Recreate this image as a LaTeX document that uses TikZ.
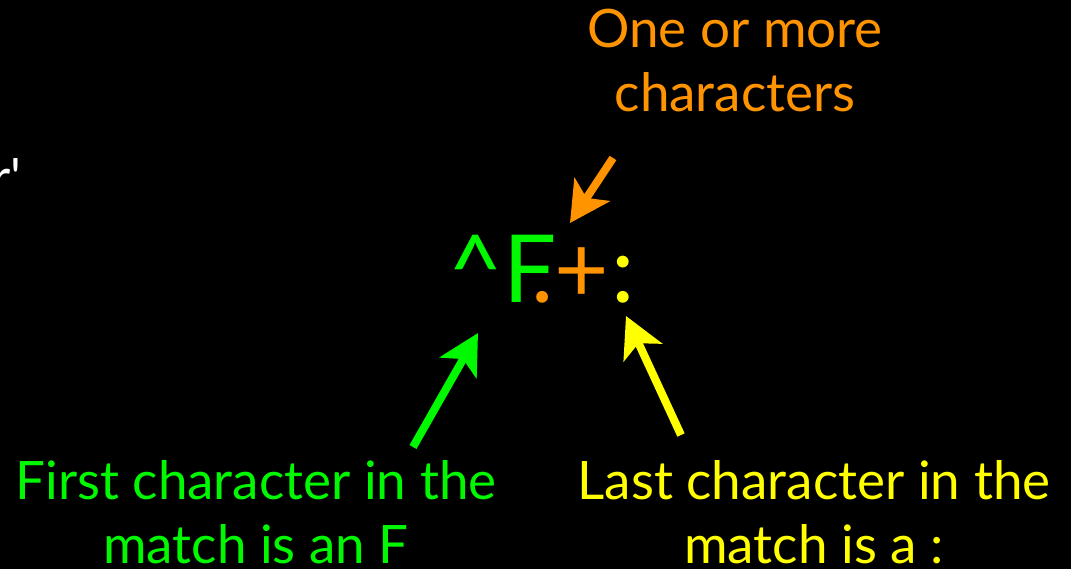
\documentclass[tikz,border=0pt]{standalone}
\usepackage{fontspec}
\setmainfont{Lato}
\usetikzlibrary{arrows.meta}
\definecolor{kOrange}{HTML}{FF9300}
\definecolor{kGreen}{HTML}{00F900}
\definecolor{kYellow}{HTML}{FFFF00}
\tikzset{
  label/.style={inner sep=0pt, anchor=base, align=center,
    font=\fontsize{53}{64}\selectfont},
  glyph/.style={inner sep=0pt, anchor=base, font=\fontsize{94}{94}\selectfont},
  pointer/.style={line width=8pt,
    -{Stealth[length=40pt, width=42pt, inset=10pt]}},
}
\begin{document}
\begin{tikzpicture}[x=1pt, y=-1pt]
  \fill[black] (0,0) rectangle (1071,569);
  \useasboundingbox (0,0) rectangle (1071,569);

  % fragment of the preceding code line
  \node[label, anchor=base east, text=white] (prefix) at (22,197) {r\textquotesingle};

  % the regular expression ^F.+:
  \node[glyph, text=kGreen] (caret) at (476,303) {\^{}};
  \node[glyph, text=kGreen, anchor=base west] (F) at (503,303) {F};
  \node[glyph, text=kOrange] (dot) at (543,303) {.};
  \node[glyph, text=kOrange] (plus) at (582,303) {+};
  \node[glyph, text=kYellow] (colon) at (623,303) {:};

  % annotations (anchored at the baseline of their last line)
  \node[label, text=kOrange] (more) at (735,112) {One or more\\characters};
  \node[label, text=kGreen] (first) at (256,563) {First character in the\\match is an F};
  \node[label, text=kYellow] (last) at (814,563) {Last character in the\\match is a :};

  % arrow ends
  \coordinate (moreTail) at (613,158);
  \coordinate (moreTip) at (570,223);
  \coordinate (firstTail) at (413,447);
  \coordinate (firstTip) at (478,333);
  \coordinate (lastTail) at (681,435);
  \coordinate (lastTip) at (626,316);

  \draw[pointer, kOrange] (moreTail) -- (moreTip);
  \draw[pointer, kGreen] (firstTail) -- (firstTip);
  \draw[pointer, kYellow] (lastTail) -- (lastTip);
\end{tikzpicture}
\end{document}
